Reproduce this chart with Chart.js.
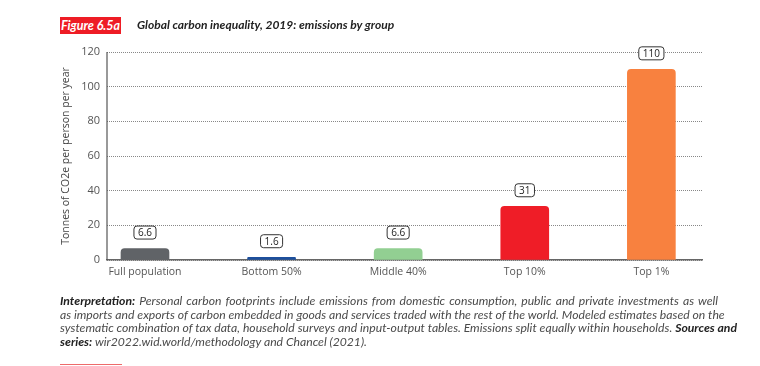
<!DOCTYPE html>
<html>
<head>
<meta charset="utf-8">
<script src="https://cdn.jsdelivr.net/npm/chart.js@4.4.1/dist/chart.umd.min.js"></script>
<style>
  html,body{margin:0;padding:0;background:#fff;}
  body{width:760px;height:366px;position:relative;overflow:hidden;}
  #wrap{position:absolute;left:0;top:0;width:760px;height:366px;}
  .fig{position:absolute;left:60px;top:17px;width:61px;height:17px;background:#ee1c25;color:#fff;
       font:italic 700 12.5px Lato, sans-serif;line-height:17px;text-align:center;}
  .title{position:absolute;left:137px;top:17px;height:17px;line-height:17px;color:#222;
       font:italic 700 12px Lato, sans-serif;}
  .note{position:absolute;left:60px;top:294px;width:658px;color:#4a4a4a;
       font:italic 400 12.2px Lato, sans-serif;line-height:13.6px;}
  .note div{white-space:nowrap;text-align:justify;text-align-last:justify;}
  .note div.last{text-align-last:left;}
  .note b{color:#222;font-weight:700;}
  .rule{position:absolute;left:60px;top:364px;width:62px;height:1px;background:#ee6a6a;}
</style>
</head>
<body>
<div id="wrap"><canvas id="c" width="760" height="366"></canvas></div>
<div class="fig">Figure 6.5a</div>
<div class="title">Global carbon inequality, 2019: emissions by group</div>
<div class="note">
<div><b>Interpretation:</b> Personal carbon footprints include emissions from domestic consumption, public and private investments as well</div>
<div>as imports and exports of carbon embedded in goods and services traded with the rest of the world. Modeled estimates based on the</div>
<div>systematic combination of tax data, household surveys and input-output tables. Emissions split equally within households. <b>Sources and</b></div>
<div class="last"><b>series:</b> wir2022.wid.world/methodology and Chancel (2021).</div>
</div>
<div class="rule"></div>
<script>
const categories = ["Full population", "Bottom 50%", "Middle 40%", "Top 10%", "Top 1%"];
const emissions = [6.6, 1.6, 6.6, 31, 110];
const valueLabels = ["6.6", "1.6", "6.6", "31", "110"];
const barColors = ["#606367", "#1d4f9c", "#92cf92", "#ef1d27", "#f8813f"];
const yTicks = [0, 20, 40, 60, 80, 100, 120];

const points = categories.map((c, i) => ({ x: i, y: emissions[i] }));

const labelPlugin = {
  id: 'boxLabels',
  beforeDatasetsDraw(chart) {
    const y = chart.scales.y, ctx = chart.ctx;
    ctx.save();
    ctx.strokeStyle = '#555';
    ctx.lineWidth = 1.2;
    ctx.beginPath();
    ctx.moveTo(chart.chartArea.left, y.getPixelForValue(y.max));
    ctx.lineTo(chart.chartArea.left, y.getPixelForValue(y.min));
    ctx.stroke();
    ctx.restore();
  },
  afterDatasetsDraw(chart) {
    const ctx = chart.ctx;
    const meta = chart.getDatasetMeta(0);
    ctx.save();
    ctx.font = '10px "Open Sans", sans-serif';
    ctx.textAlign = 'center';
    ctx.textBaseline = 'middle';
    meta.data.forEach((bar, i) => {
      const txt = valueLabels[i];
      const w = ctx.measureText(txt).width + 8;
      const h = 13;
      const cx = bar.x, cy = bar.y - 16;
      ctx.beginPath();
      ctx.roundRect(cx - w / 2, cy - h / 2, w, h, 3);
      ctx.fillStyle = '#fff';
      ctx.fill();
      ctx.lineWidth = 1;
      ctx.strokeStyle = '#333';
      ctx.stroke();
      ctx.fillStyle = '#222';
      ctx.fillText(txt, cx, cy + 0.5);
    });
    ctx.restore();
  }
};

new Chart(document.getElementById('c'), {
  type: 'bar',
  data: {
    datasets: [{
      data: points,
      backgroundColor: barColors,
      borderWidth: 0,
      borderRadius: { topLeft: 4, topRight: 4 },
      borderSkipped: 'bottom',
      barThickness: 48
    }]
  },
  plugins: [labelPlugin],
  options: {
    responsive: false,
    animation: false,
    devicePixelRatio: 1,
    layout: { padding: { left: 60, top: 52, right: 58, bottom: 86 } },
    plugins: { legend: { display: false }, tooltip: { enabled: false } },
    scales: {
      x: {
        type: 'linear',
        offset: false,
        min: -0.3,
        max: 4.4,
        afterBuildTicks: s => { s.ticks = categories.map((c, i) => ({ value: i })); },
        afterFit: s => { s.height = 20; },
        grid: { display: false, drawTicks: false },
        border: { display: true, color: '#666', width: 1.5 },
        ticks: {
          callback: v => categories[v],
          color: '#555',
          font: { family: '"Open Sans", sans-serif', size: 10.5 },
          padding: 6,
          maxRotation: 0,
          autoSkip: false
        }
      },
      y: {
        min: 0,
        max: 120,
        afterBuildTicks: s => { s.ticks = yTicks.map(v => ({ value: v })); },
        afterFit: s => { s.width = 47; },
        grid: { color: '#888', lineWidth: 1, drawTicks: false },
        border: { display: false, dash: [1, 1] },
        ticks: {
          color: '#555',
          font: { family: '"Open Sans", sans-serif', size: 11 },
          padding: 7
        },
        title: {
          display: true,
          text: 'Tonnes of CO2e per person per year',
          color: '#444',
          font: { family: '"Open Sans", sans-serif', size: 10.5 },
          padding: { top: 0, bottom: 0 }
        }
      }
    }
  }
});
</script>
</body>
</html>
